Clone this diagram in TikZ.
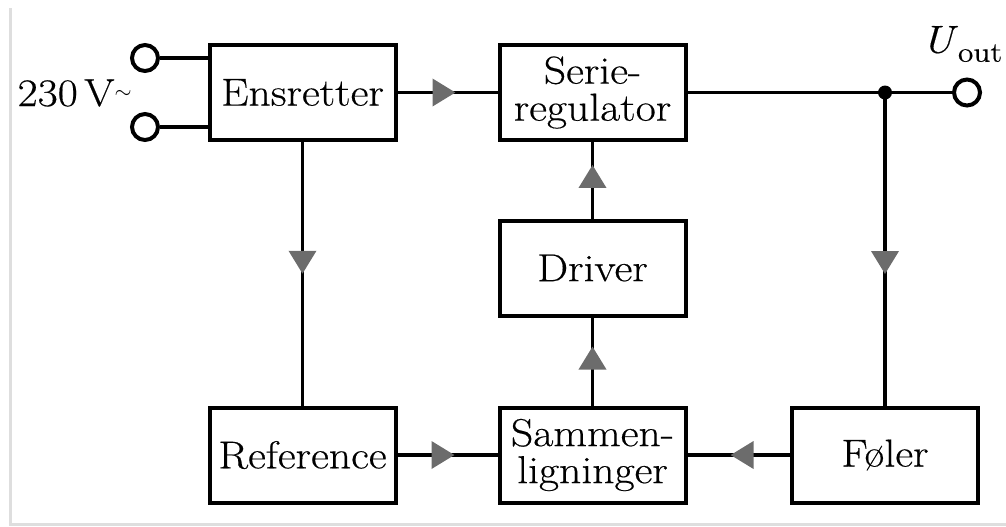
\documentclass[tikz,border=0pt]{standalone}
\usepackage{fontspec}
\setmainfont{Latin Modern Roman}[FakeStretch=1.12, FakeBold=0.4]
\usetikzlibrary{arrows.meta,decorations.markings}
\definecolor{tipgray}{RGB}{108,108,108}
\definecolor{edgegray}{RGB}{222,222,222}
\tikzset{
  block/.style={draw, line width=2pt, minimum width=93pt, minimum height=47.5pt,
    inner sep=0pt, align=center, font=\fontsize{19.5}{18.5}\selectfont},
  wire/.style={line width=1.9pt},
  flow/.style={wire, postaction={decorate}, decoration={markings,
    mark=at position #1 with {\arrow{Triangle[length=11.5pt,width=13.5pt,color=tipgray]}}}},
  terminal/.style={circle, draw, line width=2pt, fill=white, minimum size=13pt, inner sep=0pt},
  junction/.style={circle, fill, minimum size=7pt, inner sep=0pt},
  lbl/.style={inner sep=0pt, font=\fontsize{19.5}{22}\selectfont},
}
\begin{document}
\begin{tikzpicture}[x=0.5pt,y=-0.5pt]
  \useasboundingbox (0,0) rectangle (1006,526);
  % faint page edge
  \draw[edgegray, line width=1.5pt] (10,8) -- (10,524) -- (1006,524);

  % blocks
  \node[block] (ens)    at (302.5,92.5) {Ensretter};
  \node[block] (serie)  at (592.5,92.5) {Serie-\\regulator};
  \node[block] (driver) at (592.5,268)  {Driver};
  \node[block] (ref)    at (302.5,455)  {Reference};
  \node[block] (samm)   at (592.5,455)  {Sammen-\\ligninger};
  \node[block] (foel)   at (885,455)    {Føler};

  % input terminals
  \node[terminal] (t1) at (145,58)  {};
  \node[terminal] (t2) at (145,127) {};
  \draw[wire] (t1.east) -- (t1.east -| ens.west);
  \draw[wire] (t2.east) -- (t2.east -| ens.west);
  \node[lbl, anchor=east] (vin) at (132,93)
    {230\,V\raisebox{4pt}{\fontsize{11}{11}\selectfont$\sim$}};

  % output terminal
  \coordinate (j) at (885,92.5);
  \node[terminal] (uout) at (967,92.5) {};
  \node[lbl] (ulab) at (962,44)
    {\textit{U}\raisebox{-4.5pt}{\fontsize{14}{14}\selectfont out}};

  % connections
  \draw[flow=0.58] (ens) -- (serie);
  \draw[flow=0.5]  (ens) -- (ref);
  \draw[flow=0.7]  (driver) -- (serie);
  \draw[flow=0.67] (samm) -- (driver);
  \draw[flow=0.57] (ref) -- (samm);
  \draw[flow=0.58] (foel) -- (samm);
  \draw[wire] (serie) -- (j) -- (uout);
  \draw[flow=0.58] (j) -- (foel);
  \node[junction] at (j) {};
\end{tikzpicture}
\end{document}
